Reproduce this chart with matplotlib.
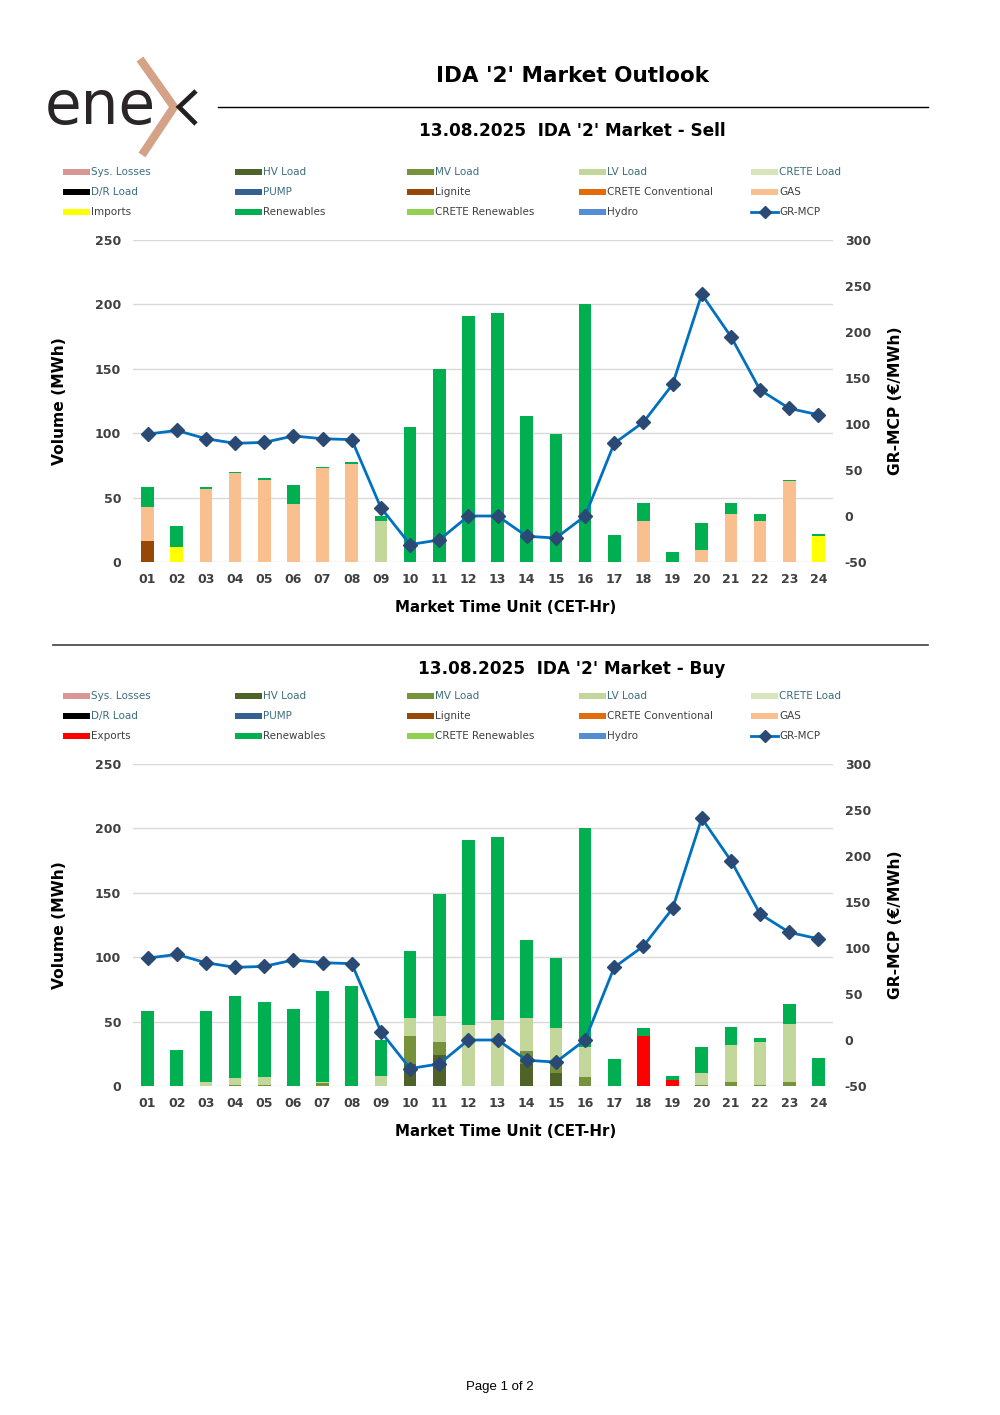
import matplotlib
matplotlib.use("Agg")
import matplotlib.pyplot as plt
import numpy as np
from matplotlib.patches import Rectangle
from matplotlib.lines import Line2D

plt.rcParams['font.family'] = ['DejaVu Sans']
plt.rcParams['axes.unicode_minus'] = False

hours = ["01", "02", "03", "04", "05", "06", "07", "08", "09", "10", "11", "12",
         "13", "14", "15", "16", "17", "18", "19", "20", "21", "22", "23", "24"]

gr_mcp = [89, 93, 84, 79, 80, 87, 84, 83, 9, -31, -26, 0,
          0, -22, -24, 0, 79, 102, 143, 241, 195, 137, 117, 110]

# ---- Sell side (MWh) ----
sell_lv_load = [0, 0, 0, 0, 0, 0, 0, 0, 32, 0, 0, 0,
                0, 0, 0, 0, 0, 0, 0, 0, 0, 0, 0, 0]
sell_lignite = [16, 0, 0, 0, 0, 0, 0, 0, 0, 0, 0, 0,
                0, 0, 0, 0, 0, 0, 0, 0, 0, 0, 0, 0]
sell_gas = [27, 0, 57, 69, 64, 45, 73, 76, 0, 0, 0, 0,
            0, 0, 0, 0, 0, 32, 0, 9, 37, 32, 63, 0]
sell_imports = [0, 12, 0, 0, 0, 0, 0, 0, 0, 0, 0, 0,
                0, 0, 0, 0, 0, 0, 0, 0, 0, 0, 0, 20]
sell_renewables = [15, 16, 1, 1, 1, 15, 1, 2, 4, 105, 150, 191,
                   193, 113, 99, 200, 21, 14, 8, 21, 9, 5, 1, 2]

# ---- Buy side (MWh) ----
buy_hv_load = [0, 0, 0, 0, 0, 0, 0, 0, 0, 17, 24, 0,
               0, 17, 10, 0, 0, 0, 0, 0, 0, 0, 0, 0]
buy_mv_load = [0, 0, 0, 1, 1, 0, 2, 0, 0, 22, 10, 0,
               0, 10, 6, 7, 0, 0, 0, 1, 3, 1, 3, 0]
buy_lv_load = [0, 0, 3, 5, 6, 0, 1, 0, 8, 14, 20, 47,
               51, 26, 29, 23, 0, 0, 0, 9, 29, 33, 45, 0]
buy_exports = [0, 0, 0, 0, 0, 0, 0, 0, 0, 0, 0, 0,
               0, 0, 0, 0, 0, 39, 5, 0, 0, 0, 0, 0]
buy_renewables = [58, 28, 55, 64, 58, 60, 71, 78, 28, 52, 95, 144,
                  142, 60, 54, 170, 21, 6, 3, 20, 14, 3, 16, 22]

C = {
    "Sys. Losses": "#DA9694", "HV Load": "#4F6228", "MV Load": "#76933C",
    "LV Load": "#C4D79B", "CRETE Load": "#D8E4BC", "D/R Load": "#000000",
    "PUMP": "#366092", "Lignite": "#974706", "CRETE Conventional": "#E26B0A",
    "GAS": "#FABF8F", "Imports": "#FFFF00", "Exports": "#FF0000",
    "Renewables": "#00B050", "CRETE Renewables": "#92D050", "Hydro": "#538DD5",
}
LINE_C = "#0070C0"
MARK_C = "#2A4A75"
TICK_C = "#404040"
TEAL = "#3C6E7C"
GRAY = "#404040"

W, H = 1000, 1415
fig = plt.figure(figsize=(W / 100, H / 100), dpi=100)


def fx(x):
    return x / W


def fy(y):
    return 1 - y / H


# ---- Logo ----
fig.text(fx(45), fy(124), "ene", fontsize=43, color="#2A2627", ha="left",
         va="baseline", family="DejaVu Sans")
fig.add_artist(Line2D([fx(140), fx(174), fx(142)], [fy(59), fy(107), fy(155)],
                      color="#D4A287", lw=6, solid_joinstyle="miter",
                      solid_capstyle="butt"))
fig.add_artist(Line2D([fx(196), fx(179), fx(196)], [fy(91), fy(107), fy(124)],
                      color="#231F20", lw=3.4, solid_joinstyle="miter",
                      solid_capstyle="butt"))

# ---- Header ----
fig.text(fx(572), fy(76), "IDA '2' Market Outlook", fontsize=15.5, fontweight="bold",
         ha="center", va="center", color="black")
fig.add_artist(Line2D([fx(218), fx(928)], [fy(107), fy(107)], color="black", lw=1))
fig.add_artist(Line2D([fx(53), fx(928)], [fy(645), fy(645)], color="#404040", lw=1.2))
fig.text(fx(500), fy(1387), "Page 1 of 2", fontsize=9.5, ha="center", va="center",
         family="Liberation Sans", color="black")


def draw_legend(y0, third_item):
    items = [["Sys. Losses", "HV Load", "MV Load", "LV Load", "CRETE Load"],
             ["D/R Load", "PUMP", "Lignite", "CRETE Conventional", "GAS"],
             [third_item, "Renewables", "CRETE Renewables", "Hydro", "GR-MCP"]]
    teal_set = {"Sys. Losses", "HV Load", "MV Load", "LV Load", "CRETE Load",
                "D/R Load", "PUMP"}
    xs = [63, 235, 407, 579, 751]
    for r, row in enumerate(items):
        y = y0 + 20 * r
        for c, name in enumerate(row):
            x = xs[c]
            if name == "GR-MCP":
                fig.add_artist(Line2D([fx(x), fx(x + 27)], [fy(y), fy(y)],
                                      color=LINE_C, lw=2))
                fig.add_artist(Line2D([fx(x + 13.5)], [fy(y)], marker="D",
                                      markersize=6.5, color=MARK_C, lw=0))
            else:
                fig.add_artist(Rectangle((fx(x), fy(y + 3)), 27 / W, 6 / H,
                                         facecolor=C[name], edgecolor="none",
                                         transform=fig.transFigure))
            fig.text(fx(x + 28), fy(y), name, fontsize=7.5, ha="left", va="center",
                     color=TEAL if name in teal_set else GRAY)


def draw_chart(top, bottom, subtitle, title_y, legend_y, third, stacks):
    ax = fig.add_axes([fx(133), fy(bottom), (833 - 133) / W, (bottom - top) / H])
    hpx = bottom - top
    x = np.arange(len(hours))
    base = np.zeros(len(hours))
    for name, vals in stacks:
        v = np.array(vals, dtype=float)
        ax.bar(x, v, bottom=base, width=0.43, color=C[name], edgecolor="none",
               zorder=2)
        base += v
    ax.set_xlim(-0.5, len(hours) - 0.5)
    ax.set_ylim(0, 250)
    ax.set_yticks(np.arange(0, 251, 50))
    ax.set_xticks(x)
    ax.set_xticklabels(hours)
    ax.grid(axis="y", color="#D9D9D9", lw=1, zorder=0)
    ax.set_axisbelow(True)
    for s in ax.spines.values():
        s.set_visible(False)
    ax.tick_params(axis="both", length=0, colors=TICK_C, labelsize=9)
    ax.tick_params(axis="y", pad=8.5)
    ax.tick_params(axis="x", pad=8)
    for lab in ax.get_xticklabels() + ax.get_yticklabels():
        lab.set_fontweight("semibold")
    ax.set_ylabel("Volume (MWh)", fontsize=11.2, fontweight="bold", color="black",
                  va="center")
    ax.yaxis.set_label_coords((60 - 133) / 700, 0.5)
    ax.set_xlabel("Market Time Unit (CET-Hr)", fontsize=10.8, fontweight="bold",
                  color="black", va="center")
    ax.xaxis.set_label_coords((506 - 133) / 700, -45 / hpx)

    ax2 = ax.twinx()
    ax2.set_ylim(-50, 300)
    ax2.set_yticks(np.arange(-50, 301, 50))
    ax2.plot(x, gr_mcp, color=LINE_C, lw=2, marker="D", markersize=7,
             markerfacecolor=MARK_C, markeredgecolor=MARK_C, zorder=5)
    for s in ax2.spines.values():
        s.set_visible(False)
    ax2.tick_params(axis="y", length=0, colors=TICK_C, labelsize=9, pad=8.5)
    for lab in ax2.get_yticklabels():
        lab.set_fontweight("semibold")
    ax2.set_ylabel("GR-MCP (€/MWh)", fontsize=11.2, fontweight="bold", color="black",
                   va="center", rotation=90)
    ax2.yaxis.set_label_coords((895 - 133) / 700, 0.5)

    fig.text(fx(572), fy(title_y), subtitle, fontsize=12.2, fontweight="bold",
             ha="center", va="center", color="black")
    draw_legend(legend_y, third)


draw_chart(240, 562, "13.08.2025  IDA '2' Market - Sell", 131, 172, "Imports",
           [("LV Load", sell_lv_load), ("Lignite", sell_lignite), ("GAS", sell_gas),
            ("Imports", sell_imports), ("Renewables", sell_renewables)])
draw_chart(764, 1086, "13.08.2025  IDA '2' Market - Buy", 669, 696, "Exports",
           [("HV Load", buy_hv_load), ("MV Load", buy_mv_load),
            ("LV Load", buy_lv_load), ("Exports", buy_exports),
            ("Renewables", buy_renewables)])

fig.savefig("out.png", dpi=100)
